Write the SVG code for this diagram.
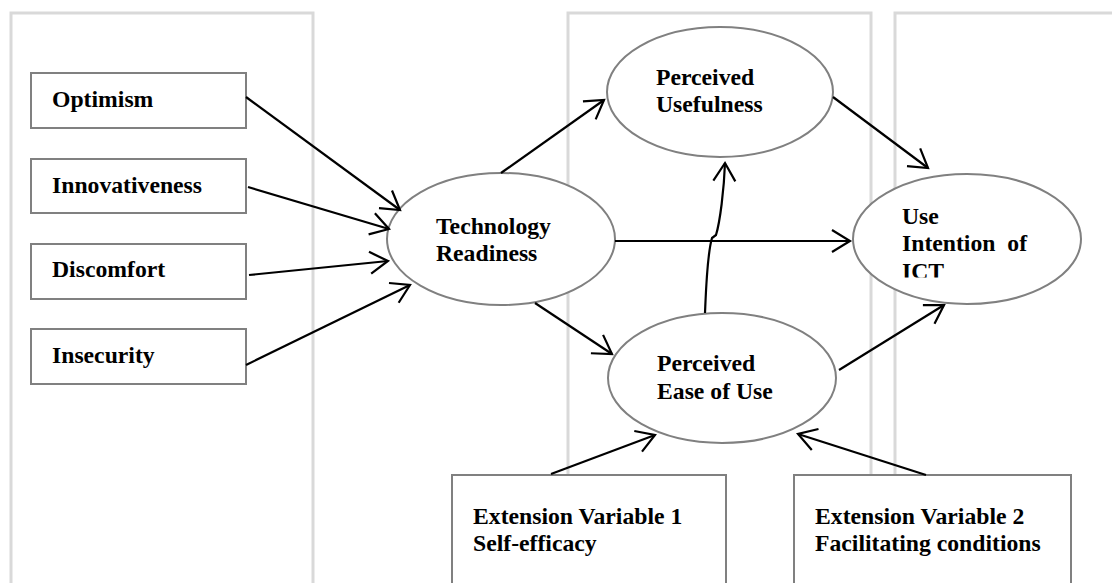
<svg xmlns="http://www.w3.org/2000/svg" width="1112" height="583" viewBox="0 0 1112 583">
<style>
.panel{fill:none;stroke:#d9d9d9;stroke-width:3}
.box{fill:#fff;stroke:#808080;stroke-width:2}
.ell{fill:#fff;stroke:#808080;stroke-width:2}
.t{font-family:"Liberation Serif","Times New Roman",serif;font-weight:bold;font-size:23.7px;fill:#000}
.c{fill:none;stroke:#000;stroke-width:2.2}
</style>
<defs>
<marker id="ah" markerUnits="userSpaceOnUse" markerWidth="24" markerHeight="28" refX="20" refY="14" orient="auto" overflow="visible">
<path d="M2,3 L20,14 L2,25" fill="none" stroke="#000" stroke-width="2.2"/>
</marker>
<clipPath id="clipICT"><rect x="850" y="170" width="240" height="107.5"/></clipPath>
</defs>
<g id="panels">
<rect class="panel" x="11" y="13" width="302" height="600"/>
<rect class="panel" x="568" y="13" width="303" height="600"/>
<rect class="panel" x="895" y="13" width="240" height="600"/>
</g>
<g id="optimism"><rect class="box" x="31" y="73" width="215" height="55"/><text class="t" x="52" y="107">Optimism</text></g>
<g id="innovativeness"><rect class="box" x="31" y="159" width="215" height="54"/><text class="t" x="52" y="193">Innovativeness</text></g>
<g id="discomfort"><rect class="box" x="31" y="244" width="215" height="55"/><text class="t" x="52" y="277">Discomfort</text></g>
<g id="insecurity"><rect class="box" x="31" y="329" width="215" height="55"/><text class="t" x="52" y="363">Insecurity</text></g>
<g id="ext1"><rect class="box" x="452" y="475" width="274" height="130"/><text class="t" x="473" y="524">Extension Variable 1</text><text class="t" x="473" y="551">Self-efficacy</text></g>
<g id="ext2"><rect class="box" x="794" y="475" width="277" height="130"/><text class="t" x="815" y="524">Extension Variable 2</text><text class="t" x="815" y="551">Facilitating conditions</text></g>
<g id="tr"><ellipse class="ell" cx="501" cy="239" rx="114" ry="66"/><text class="t" x="436" y="234">Technology</text><text class="t" x="436" y="261">Readiness</text></g>
<g id="pu"><ellipse class="ell" cx="720" cy="92" rx="113" ry="65"/><text class="t" x="656" y="85">Perceived</text><text class="t" x="656" y="112">Usefulness</text></g>
<g id="peou"><ellipse class="ell" cx="722" cy="378" rx="114" ry="65"/><text class="t" x="657" y="371">Perceived</text><text class="t" x="657" y="399">Ease of Use</text></g>
<g id="ui"><ellipse class="ell" cx="967" cy="239" rx="114" ry="65"/><text class="t" x="902" y="224">Use</text><text class="t" x="902" y="251" xml:space="preserve">Intention  of</text><text class="t" x="902" y="279" clip-path="url(#clipICT)">ICT</text></g>
<g id="connectors">
<line class="c" x1="246" y1="97" x2="400" y2="210" marker-end="url(#ah)"/>
<line class="c" x1="248" y1="187" x2="389" y2="229" marker-end="url(#ah)"/>
<line class="c" x1="249" y1="275" x2="388" y2="261" marker-end="url(#ah)"/>
<line class="c" x1="246" y1="365" x2="410" y2="285" marker-end="url(#ah)"/>
<line class="c" x1="501" y1="173" x2="604" y2="100" marker-end="url(#ah)"/>
<line class="c" x1="615" y1="241" x2="850" y2="241" marker-end="url(#ah)"/>
<line class="c" x1="833" y1="97" x2="928" y2="168" marker-end="url(#ah)"/>
<line class="c" x1="535" y1="303" x2="612" y2="354" marker-end="url(#ah)"/>
<path class="c" d="M705,313 C706,290 707,255 712,238 L716,235 C720,222 724,190 725,163" marker-end="url(#ah)"/>
<line class="c" x1="839" y1="370" x2="944" y2="305" marker-end="url(#ah)"/>
<line class="c" x1="551" y1="474" x2="655" y2="435" marker-end="url(#ah)"/>
<line class="c" x1="926" y1="475" x2="798" y2="434" marker-end="url(#ah)"/>
</g>
</svg>
